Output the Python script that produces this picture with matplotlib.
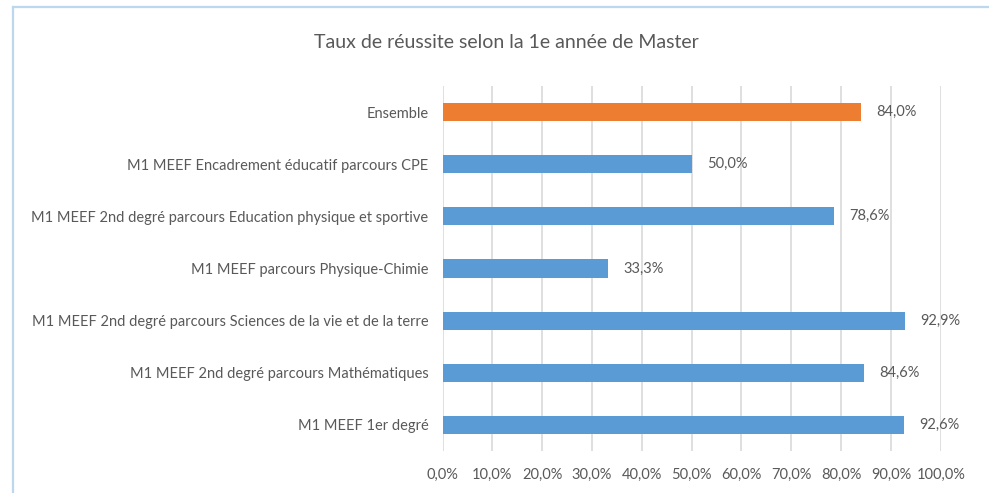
import matplotlib
matplotlib.use("Agg")
import matplotlib.pyplot as plt
from matplotlib.lines import Line2D
from matplotlib.ticker import FuncFormatter

# data (bottom to top)
categories = [
    "M1 MEEF 1er degré",
    "M1 MEEF 2nd degré parcours Mathématiques",
    "M1 MEEF 2nd degré parcours Sciences de la vie et de la terre",
    "M1 MEEF parcours Physique-Chimie",
    "M1 MEEF 2nd degré parcours Education physique et sportive",
    "M1 MEEF Encadrement éducatif parcours CPE",
    "Ensemble",
]
taux = [92.6, 84.6, 92.9, 33.3, 78.6, 50.0, 84.0]
x_ticks = [0, 10, 20, 30, 40, 50, 60, 70, 80, 90, 100]

BLUE = "#5B9BD5"
ORANGE = "#ED7D31"
TXT = "#595959"

plt.rcParams["font.family"] = ["Lato", "DejaVu Sans"]

W, H = 989, 493
fig = plt.figure(figsize=(W / 100, H / 100), dpi=100)
ax = fig.add_axes([442.5 / W, 1 - 451 / H, (940.7 - 442.5) / W, (451 - 86) / H])

colors = [BLUE] * (len(categories) - 1) + [ORANGE]
ypos = list(range(len(categories)))
ax.barh(ypos, taux, height=0.35, color=colors, zorder=3)

for y, v in zip(ypos, taux):
    ax.annotate(f"{v:.1f}%".replace(".", ","), xy=(v, y), xytext=(11, 0),
                textcoords="offset points", ha="left", va="center",
                fontsize=10.5, color=TXT)

ax.set_xlim(0, 100)
ax.set_ylim(-0.5, len(categories) - 0.5)
ax.set_xticks(x_ticks)
ax.xaxis.set_major_formatter(FuncFormatter(lambda v, p: f"{v:.1f}%".replace(".", ",")))
ax.set_yticks(ypos)
ax.set_yticklabels(categories)
ax.tick_params(axis="both", length=0, labelsize=10.5, labelcolor=TXT)
ax.tick_params(axis="x", pad=12)
ax.tick_params(axis="y", pad=10)
ax.grid(axis="x", color="#D9D9D9", linewidth=1.2, zorder=0)
for s in ax.spines.values():
    s.set_visible(False)

fig.text(506 / W, 1 - 42 / H, "Taux de réussite selon la 1e année de Master",
         ha="center", va="center", fontsize=14, color=TXT)

# chart border (cropped on right and bottom)
border = "#BDD7EE"
fig.add_artist(Line2D([12.5 / W, 1], [1 - 6.5 / H] * 2, color=border, linewidth=1.6,
                      transform=fig.transFigure))
fig.add_artist(Line2D([12.5 / W] * 2, [0, 1 - 6.5 / H], color=border, linewidth=1.6,
                      transform=fig.transFigure))

fig.savefig("out.png", dpi=100)
